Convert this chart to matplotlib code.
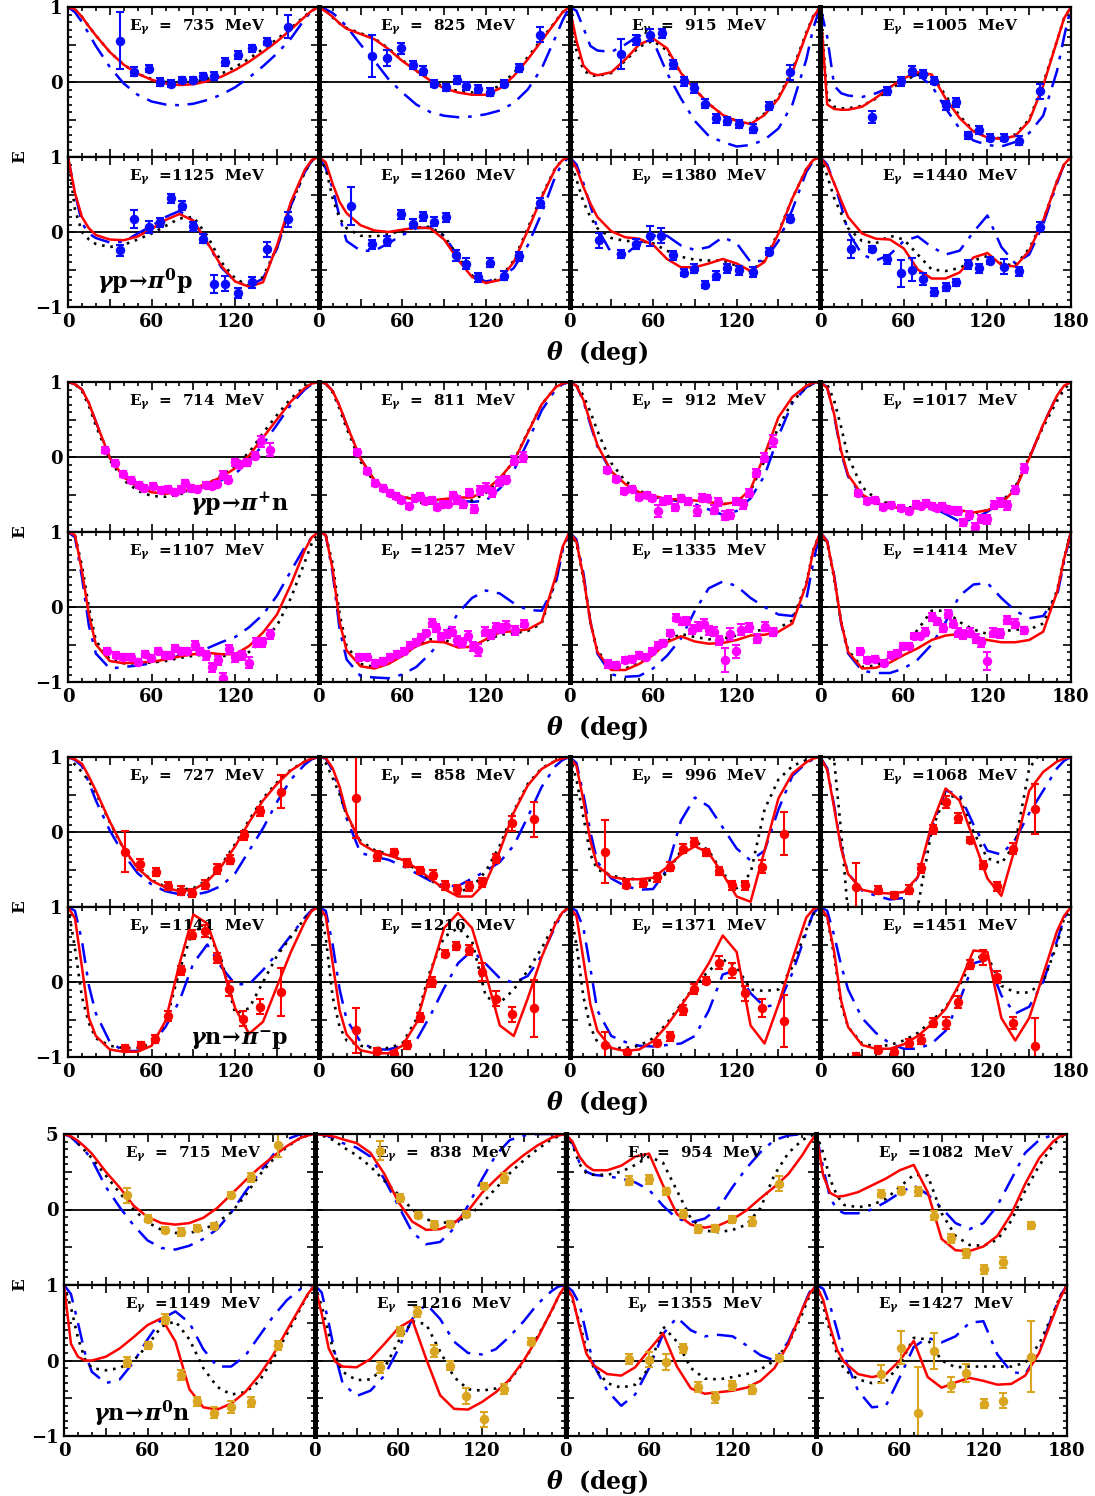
"""Beam-target helicity asymmetry E for four pion photoproduction channels."""

import matplotlib

matplotlib.use("Agg")
import matplotlib.pyplot as plt
from matplotlib.ticker import MultipleLocator

plt.rcParams["font.family"] = ["DejaVu Serif"]
plt.rcParams["font.weight"] = "bold"
plt.rcParams["mathtext.fontset"] = "dejavuserif"

THETA = [0, 5, 10, 15, 20, 30, 40, 50, 60, 70, 80, 90, 100, 110, 120, 130, 140, 150, 160, 170, 175, 180]

# ---------------- gamma p -> pi0 p ----------------
pi0p_energy = [735, 825, 915, 1005, 1125, 1260, 1380, 1440]
pi0p_red = [
    [1, 0.97, 0.87, 0.74, 0.62, 0.40, 0.23, 0.11, 0.03, -0.02, -0.04, -0.03, 0.01, 0.07, 0.16, 0.27, 0.40, 0.54, 0.70, 0.87, 0.95, 1],
    [1, 0.94, 0.87, 0.78, 0.71, 0.64, 0.57, 0.44, 0.28, 0.15, 0.02, -0.085, -0.14, -0.17, -0.17, -0.085, 0.08, 0.30, 0.55, 0.80, 0.93, 1],
    [1, 0.55, 0.22, 0.12, 0.09, 0.13, 0.30, 0.50, 0.58, 0.45, 0.12, -0.10, -0.29, -0.44, -0.52, -0.56, -0.44, -0.22, 0.13, 0.64, 0.87, 1],
    [1, -0.30, -0.36, -0.37, -0.37, -0.33, -0.21, -0.07, 0.05, 0.13, 0.10, -0.22, -0.48, -0.66, -0.74, -0.76, -0.72, -0.52, -0.05, 0.55, 0.85, 1],
    [1, 0.52, 0.20, 0.05, -0.04, -0.10, -0.11, -0.06, 0.04, 0.16, 0.24, 0.15, -0.14, -0.45, -0.66, -0.73, -0.67, -0.18, 0.40, 0.83, 0.96, 1],
    [1, 0.93, 0.64, 0.40, 0.25, 0.09, 0.02, 0.0, 0.03, 0.06, 0.05, -0.10, -0.37, -0.60, -0.68, -0.64, -0.40, 0.02, 0.46, 0.85, 0.96, 1],
    [1, 0.85, 0.60, 0.38, 0.20, 0.01, -0.07, -0.09, -0.17, -0.36, -0.47, -0.47, -0.42, -0.36, -0.42, -0.52, -0.40, -0.02, 0.45, 0.84, 0.96, 1],
    [1, 0.87, 0.65, 0.42, 0.20, -0.02, -0.09, -0.10, -0.22, -0.50, -0.62, -0.62, -0.54, -0.34, -0.28, -0.44, -0.46, -0.25, 0.15, 0.68, 0.90, 1],
]
pi0p_dot = [
    [1, 0.97, 0.87, 0.74, 0.62, 0.40, 0.23, 0.11, 0.04, 0.0, -0.01, 0.0, 0.04, 0.11, 0.20, 0.31, 0.44, 0.57, 0.72, 0.88, 0.95, 1],
    [1, 0.95, 0.86, 0.78, 0.72, 0.65, 0.58, 0.45, 0.29, 0.15, 0.03, -0.07, -0.12, -0.14, -0.13, -0.05, 0.12, 0.33, 0.57, 0.81, 0.93, 1],
    [1, 0.42, 0.16, 0.09, 0.08, 0.12, 0.28, 0.47, 0.55, 0.42, 0.12, -0.10, -0.29, -0.44, -0.52, -0.55, -0.42, -0.20, 0.16, 0.66, 0.88, 1],
    [1, -0.20, -0.33, -0.35, -0.35, -0.32, -0.22, -0.10, 0.02, 0.10, 0.10, -0.18, -0.45, -0.65, -0.74, -0.75, -0.70, -0.50, -0.02, 0.55, 0.85, 1],
    [1, 0.30, 0.0, -0.10, -0.16, -0.20, -0.17, -0.10, -0.02, 0.08, 0.18, 0.20, -0.05, -0.40, -0.62, -0.72, -0.60, -0.20, 0.36, 0.80, 0.95, 1],
    [1, 0.85, 0.45, 0.18, 0.05, -0.05, -0.06, -0.03, 0.02, 0.06, 0.07, -0.05, -0.33, -0.58, -0.68, -0.62, -0.38, 0.05, 0.48, 0.86, 0.96, 1],
    [1, 0.70, 0.40, 0.20, 0.05, -0.08, -0.12, -0.12, -0.15, -0.25, -0.33, -0.37, -0.38, -0.38, -0.45, -0.52, -0.38, 0.0, 0.45, 0.84, 0.96, 1],
    [1, 0.75, 0.45, 0.25, 0.05, -0.12, -0.15, -0.05, -0.10, -0.30, -0.50, -0.52, -0.48, -0.38, -0.32, -0.42, -0.45, -0.22, 0.15, 0.68, 0.90, 1],
]
pi0p_blue = [
    [1, 0.93, 0.80, 0.64, 0.48, 0.20, -0.02, -0.17, -0.26, -0.30, -0.31, -0.29, -0.24, -0.17, -0.07, 0.06, 0.21, 0.38, 0.58, 0.84, 0.95, 1],
    [1, 0.97, 0.92, 0.84, 0.74, 0.50, 0.28, 0.04, -0.14, -0.30, -0.40, -0.45, -0.47, -0.46, -0.43, -0.38, -0.28, -0.10, 0.18, 0.60, 0.82, 1],
    [1, 0.95, 0.72, 0.48, 0.42, 0.40, 0.50, 0.62, 0.55, 0.12, -0.22, -0.52, -0.72, -0.80, -0.86, -0.84, -0.77, -0.62, -0.30, 0.30, 0.72, 1],
    [1, 0.60, -0.05, -0.15, -0.18, -0.20, -0.15, -0.07, 0.03, 0.10, -0.05, -0.35, -0.62, -0.78, -0.84, -0.86, -0.80, -0.68, -0.45, 0.15, 0.60, 1],
    [1, 0.52, 0.12, -0.02, -0.08, -0.14, -0.13, -0.02, 0.08, 0.20, 0.28, 0.15, -0.15, -0.47, -0.66, -0.72, -0.62, -0.22, 0.35, 0.80, 0.95, 1],
    [1, 0.85, 0.58, 0.20, -0.12, -0.25, -0.25, -0.15, -0.04, 0.05, 0.06, -0.05, -0.33, -0.58, -0.66, -0.62, -0.48, -0.18, 0.25, 0.75, 0.92, 1],
    [1, 0.90, 0.65, 0.35, 0.05, -0.28, -0.30, -0.15, -0.05, -0.05, -0.18, -0.24, -0.20, -0.07, -0.15, -0.40, -0.38, -0.12, 0.30, 0.80, 0.95, 1],
    [1, 0.90, 0.65, 0.35, 0.0, -0.30, -0.38, -0.30, -0.12, -0.06, -0.20, -0.30, -0.25, 0.0, 0.22, -0.20, -0.42, -0.30, 0.10, 0.65, 0.90, 1],
]
pi0p_th = [
    [37, 47.5, 58, 66, 74, 82, 90, 97, 105, 113, 122, 132, 143, 158],
    [38, 49, 59, 68, 75, 83, 91, 99, 106, 114, 123, 133, 144, 159],
    [37, 47.5, 58, 66.5, 74, 82.5, 89.6, 97, 105, 113, 122, 132, 143, 158],
    [37, 48, 58, 66, 74, 82, 90, 97.6, 106, 113.6, 122, 132, 143, 158],
    [37, 47.5, 58, 66, 74, 82, 90, 97, 105, 113, 122, 132, 143, 158],
    [23, 38, 49, 59, 68, 75, 83, 91, 98.6, 106, 114, 123, 133, 144, 159],
    [21, 37, 48, 58, 66, 74, 82.5, 89.6, 97, 105, 113, 122, 132, 143, 158],
    [22, 37, 48, 58, 66, 74, 82, 90, 97.6, 106, 113.6, 122, 132, 143, 158],
]
pi0p_e = [
    [0.55, 0.14, 0.18, 0.0, -0.02, 0.03, 0.03, 0.08, 0.08, 0.27, 0.36, 0.45, 0.54, 0.74],
    [0.35, 0.32, 0.45, 0.23, 0.15, -0.02, -0.07, 0.03, -0.05, -0.09, -0.13, -0.02, 0.19, 0.63],
    [0.37, 0.56, 0.63, 0.65, 0.24, 0.01, -0.08, -0.29, -0.48, -0.52, -0.56, -0.62, -0.32, 0.13],
    [-0.47, -0.12, 0.01, 0.15, 0.11, 0.02, -0.31, -0.27, -0.71, -0.64, -0.74, -0.74, -0.78, -0.12],
    [-0.245, 0.17, 0.07, 0.13, 0.45, 0.35, 0.08, -0.09, -0.69, -0.69, -0.81, -0.67, -0.23, 0.17],
    [0.35, -0.165, -0.12, 0.24, 0.11, 0.21, 0.14, 0.20, -0.31, -0.42, -0.60, -0.41, -0.58, -0.32, 0.39],
    [-0.11, -0.29, -0.16, -0.05, -0.05, -0.31, -0.54, -0.49, -0.70, -0.58, -0.48, -0.51, -0.53, -0.26, 0.18],
    [-0.22, -0.23, -0.36, -0.55, -0.50, -0.62, -0.80, -0.73, -0.67, -0.43, -0.48, -0.38, -0.46, -0.52, 0.07],
]
pi0p_err = [
    [0.38, 0.06, 0.05, 0.05, 0.05, 0.04, 0.04, 0.04, 0.05, 0.05, 0.05, 0.05, 0.05, 0.15],
    [0.28, 0.11, 0.07, 0.05, 0.06, 0.05, 0.05, 0.05, 0.05, 0.05, 0.05, 0.05, 0.05, 0.10],
    [0.20, 0.07, 0.08, 0.06, 0.06, 0.06, 0.06, 0.06, 0.06, 0.05, 0.05, 0.06, 0.05, 0.10],
    [0.08, 0.05, 0.06, 0.06, 0.05, 0.05, 0.06, 0.06, 0.05, 0.05, 0.05, 0.05, 0.06, 0.10],
    [0.07, 0.12, 0.08, 0.06, 0.06, 0.06, 0.06, 0.06, 0.12, 0.10, 0.07, 0.07, 0.10, 0.10],
    [0.25, 0.06, 0.07, 0.06, 0.06, 0.06, 0.06, 0.06, 0.07, 0.07, 0.06, 0.06, 0.06, 0.06, 0.07],
    [0.10, 0.05, 0.07, 0.13, 0.10, 0.06, 0.05, 0.06, 0.05, 0.06, 0.06, 0.06, 0.07, 0.05, 0.05],
    [0.12, 0.04, 0.06, 0.18, 0.15, 0.08, 0.05, 0.05, 0.05, 0.06, 0.06, 0.05, 0.10, 0.06, 0.06],
]

# ---------------- gamma p -> pi+ n ----------------
pipn_energy = [714, 811, 912, 1017, 1107, 1257, 1335, 1414]
pipn_red = [
    [1, 0.97, 0.90, 0.72, 0.47, -0.01, -0.27, -0.40, -0.47, -0.49, -0.47, -0.42, -0.35, -0.27, -0.15, 0.02, 0.26, 0.50, 0.74, 0.92, 0.98, 1],
    [1, 0.98, 0.88, 0.68, 0.43, -0.02, -0.31, -0.45, -0.53, -0.57, -0.58, -0.56, -0.54, -0.54, -0.44, -0.28, -0.06, 0.32, 0.70, 0.93, 0.98, 1],
    [1, 0.95, 0.76, 0.46, 0.16, -0.19, -0.36, -0.47, -0.52, -0.56, -0.57, -0.58, -0.60, -0.63, -0.60, -0.43, 0.03, 0.53, 0.80, 0.95, 0.99, 1],
    [1, 0.92, 0.57, 0.08, -0.24, -0.50, -0.61, -0.66, -0.69, -0.68, -0.65, -0.68, -0.71, -0.74, -0.71, -0.62, -0.43, -0.02, 0.43, 0.82, 0.95, 1],
    [1, 0.96, 0.48, -0.10, -0.50, -0.72, -0.75, -0.74, -0.73, -0.70, -0.66, -0.63, -0.61, -0.63, -0.63, -0.52, -0.34, -0.10, 0.30, 0.76, 0.93, 1],
    [1, 0.96, 0.50, -0.20, -0.58, -0.79, -0.82, -0.76, -0.65, -0.52, -0.46, -0.47, -0.54, -0.53, -0.43, -0.34, -0.32, -0.30, -0.20, 0.40, 0.80, 1],
    [1, 0.87, 0.40, -0.20, -0.60, -0.84, -0.84, -0.76, -0.64, -0.47, -0.39, -0.46, -0.49, -0.48, -0.44, -0.38, -0.37, -0.33, -0.22, 0.30, 0.75, 1],
    [1, 0.87, 0.40, -0.20, -0.60, -0.82, -0.81, -0.74, -0.64, -0.55, -0.44, -0.38, -0.36, -0.40, -0.44, -0.47, -0.47, -0.44, -0.33, 0.20, 0.64, 1],
]
pipn_dot = [
    [1, 0.97, 0.88, 0.68, 0.42, -0.04, -0.31, -0.45, -0.52, -0.53, -0.50, -0.44, -0.36, -0.25, -0.11, 0.06, 0.32, 0.56, 0.78, 0.94, 0.98, 1],
    [1, 0.98, 0.86, 0.64, 0.38, -0.06, -0.34, -0.48, -0.56, -0.60, -0.62, -0.63, -0.62, -0.58, -0.48, -0.30, -0.05, 0.33, 0.70, 0.93, 0.98, 1],
    [1, 0.96, 0.82, 0.60, 0.35, -0.08, -0.32, -0.45, -0.52, -0.56, -0.57, -0.58, -0.60, -0.63, -0.60, -0.45, -0.05, 0.40, 0.74, 0.93, 0.98, 1],
    [1, 0.97, 0.75, 0.40, 0.0, -0.40, -0.56, -0.63, -0.67, -0.67, -0.65, -0.69, -0.73, -0.75, -0.71, -0.60, -0.40, 0.0, 0.40, 0.75, 0.90, 1],
    [1, 0.96, 0.55, 0.0, -0.45, -0.70, -0.75, -0.75, -0.74, -0.72, -0.68, -0.65, -0.63, -0.65, -0.66, -0.60, -0.45, -0.25, 0.12, 0.60, 0.85, 1],
    [1, 0.96, 0.58, -0.10, -0.52, -0.76, -0.80, -0.75, -0.65, -0.52, -0.43, -0.44, -0.50, -0.52, -0.45, -0.37, -0.35, -0.32, -0.22, 0.35, 0.78, 1],
    [1, 0.85, 0.38, -0.20, -0.58, -0.82, -0.82, -0.75, -0.62, -0.45, -0.36, -0.40, -0.43, -0.42, -0.38, -0.33, -0.30, -0.28, -0.18, 0.32, 0.76, 1],
    [1, 0.85, 0.38, -0.20, -0.58, -0.80, -0.78, -0.68, -0.55, -0.30, -0.05, -0.05, -0.20, -0.30, -0.36, -0.33, -0.30, -0.30, -0.22, 0.22, 0.65, 1],
]
pipn_blue = [
    [1, 0.97, 0.90, 0.72, 0.47, -0.01, -0.27, -0.40, -0.46, -0.48, -0.47, -0.44, -0.39, -0.31, -0.22, -0.07, 0.17, 0.43, 0.70, 0.90, 0.97, 1],
    [1, 0.98, 0.88, 0.68, 0.43, -0.02, -0.31, -0.45, -0.53, -0.57, -0.58, -0.57, -0.57, -0.60, -0.58, -0.42, -0.18, 0.20, 0.62, 0.90, 0.97, 1],
    [1, 0.95, 0.74, 0.43, 0.14, -0.20, -0.37, -0.48, -0.53, -0.57, -0.59, -0.63, -0.70, -0.77, -0.72, -0.55, -0.25, 0.28, 0.72, 0.93, 0.98, 1],
    [1, 0.93, 0.55, 0.05, -0.26, -0.52, -0.62, -0.66, -0.69, -0.68, -0.67, -0.76, -0.86, -0.83, -0.73, -0.60, -0.42, -0.02, 0.43, 0.82, 0.95, 1],
    [1, 0.93, 0.40, -0.25, -0.62, -0.82, -0.80, -0.78, -0.75, -0.70, -0.65, -0.60, -0.55, -0.47, -0.40, -0.27, -0.10, 0.15, 0.48, 0.80, 0.93, 1],
    [1, 0.96, 0.45, -0.30, -0.70, -0.92, -0.94, -0.95, -0.90, -0.80, -0.62, -0.40, -0.08, 0.12, 0.22, 0.18, 0.05, -0.04, -0.05, 0.30, 0.75, 1],
    [1, 0.90, 0.45, -0.20, -0.62, -0.90, -0.93, -0.92, -0.82, -0.65, -0.42, -0.05, 0.25, 0.34, 0.28, 0.12, 0.0, -0.10, -0.12, 0.10, 0.60, 1],
    [1, 0.88, 0.42, -0.22, -0.62, -0.85, -0.88, -0.88, -0.82, -0.70, -0.50, -0.20, 0.15, 0.30, 0.32, 0.12, -0.05, -0.15, -0.12, 0.15, 0.60, 1],
]
pipn_th = [
    [26.5, 33.6, 39.7, 45.5, 51.3, 54.9, 60.7, 66.5, 72, 76.6, 80.9, 84.2, 88.5, 92.3, 99.1, 103.6, 106.7, 111.2, 115, 119.6, 122.6, 128.4, 134, 138.3, 145.3],
    [27.8, 34.4, 40.7, 46.3, 51.3, 55.1, 58.9, 64.5, 69, 72.8, 76.6, 81.1, 84.9, 89.2, 92.5, 96.3, 99.3, 103.9, 108.2, 111.5, 115.8, 120.3, 124.6, 129.7, 134.7, 140.3, 146.9],
    [27.2, 33.5, 39.3, 45.2, 50.2, 55.3, 59.1, 63.5, 67.3, 71, 75.6, 79.9, 85, 91.4, 95.2, 99, 104, 106.6, 111.7, 115.5, 119.3, 124.4, 128.7, 134, 139.6, 146.2],
    [27.4, 33.5, 39.3, 45.1, 50.7, 57.8, 63.4, 68.5, 72.3, 76.1, 79.9, 83.7, 87.5, 91.3, 95.1, 98.9, 102.7, 106.5, 111, 115.3, 119.7, 124.7, 129.3, 134.4, 140, 146.5],
    [27.8, 34.1, 39.7, 45.5, 50.6, 55.6, 59.9, 64.5, 69.5, 73.3, 76.6, 80.9, 85.2, 91, 94.8, 99.3, 103.1, 107.4, 111.2, 115.5, 119.6, 125.1, 129.7, 134.7, 139, 145.3],
    [28.6, 34.9, 40.7, 45.8, 51.3, 56.4, 61, 65.2, 69.5, 73.6, 77.1, 81.2, 84.2, 88, 91.8, 95.6, 99.4, 103.1, 106.9, 110.8, 114.5, 119.6, 123.4, 127.2, 131, 134.7, 141, 147],
    [27.4, 33.5, 39.8, 44.9, 50, 55.1, 59.1, 63.5, 67.3, 71.8, 76.1, 80.7, 83.8, 87.6, 92.6, 96.4, 100.3, 104, 107.4, 111.7, 115.5, 119.3, 123.1, 128.7, 134.5, 140.1, 146.2],
    [28.7, 33.5, 39.3, 45.6, 50.7, 55.3, 59.6, 63.4, 67.2, 71.5, 75.5, 79.9, 83.7, 88.3, 91.8, 95.1, 98.9, 102.7, 107.3, 111.6, 115.4, 120, 124.3, 129.3, 134.4, 140, 146.5],
]
pipn_e = [
    [0.09, -0.08, -0.22, -0.30, -0.37, -0.41, -0.39, -0.44, -0.42, -0.46, -0.43, -0.34, -0.41, -0.43, -0.37, -0.38, -0.36, -0.24, -0.30, -0.07, -0.10, -0.07, 0.02, 0.21, 0.10],
    [0.07, -0.18, -0.34, -0.41, -0.48, -0.52, -0.57, -0.65, -0.55, -0.52, -0.59, -0.57, -0.66, -0.63, -0.63, -0.51, -0.57, -0.63, -0.47, -0.69, -0.44, -0.41, -0.47, -0.33, -0.30, -0.05, 0.0],
    [-0.17, -0.29, -0.45, -0.43, -0.53, -0.51, -0.54, -0.72, -0.59, -0.57, -0.67, -0.55, -0.59, -0.72, -0.54, -0.55, -0.70, -0.60, -0.78, -0.77, -0.59, -0.63, -0.48, -0.21, -0.01, 0.22],
    [-0.48, -0.59, -0.57, -0.66, -0.64, -0.68, -0.72, -0.62, -0.65, -0.61, -0.65, -0.68, -0.65, -0.69, -0.71, -0.72, -0.87, -0.77, -0.93, -0.82, -0.83, -0.64, -0.60, -0.64, -0.44, -0.15],
    [-0.59, -0.64, -0.67, -0.67, -0.73, -0.62, -0.68, -0.59, -0.64, -0.64, -0.55, -0.58, -0.59, -0.51, -0.59, -0.64, -0.80, -0.71, -0.94, -0.56, -0.67, -0.64, -0.74, -0.47, -0.47, -0.36],
    [-0.67, -0.67, -0.74, -0.72, -0.67, -0.63, -0.58, -0.50, -0.47, -0.40, -0.34, -0.21, -0.28, -0.39, -0.36, -0.33, -0.44, -0.47, -0.38, -0.52, -0.57, -0.33, -0.36, -0.27, -0.29, -0.25, -0.31, -0.22],
    [-0.76, -0.77, -0.70, -0.69, -0.64, -0.66, -0.58, -0.50, -0.48, -0.35, -0.14, -0.19, -0.18, -0.30, -0.26, -0.22, -0.31, -0.33, -0.44, -0.70, -0.36, -0.59, -0.30, -0.27, -0.42, -0.26, -0.33],
    [-0.59, -0.70, -0.69, -0.74, -0.64, -0.61, -0.52, -0.52, -0.38, -0.38, -0.33, -0.13, -0.19, -0.28, -0.09, -0.22, -0.34, -0.36, -0.34, -0.42, -0.47, -0.72, -0.34, -0.35, -0.17, -0.22, -0.31],
]
pipn_err = [
    [0.04, 0.04, 0.04, 0.04, 0.04, 0.04, 0.04, 0.04, 0.04, 0.04, 0.04, 0.04, 0.04, 0.04, 0.04, 0.04, 0.04, 0.05, 0.05, 0.05, 0.05, 0.05, 0.05, 0.07, 0.09],
    [0.04, 0.04, 0.04, 0.04, 0.04, 0.04, 0.04, 0.04, 0.04, 0.04, 0.04, 0.04, 0.04, 0.04, 0.04, 0.05, 0.05, 0.05, 0.05, 0.05, 0.06, 0.06, 0.06, 0.06, 0.05, 0.06, 0.07],
    [0.04, 0.04, 0.04, 0.04, 0.04, 0.04, 0.04, 0.08, 0.05, 0.05, 0.05, 0.05, 0.05, 0.07, 0.05, 0.05, 0.06, 0.05, 0.06, 0.06, 0.05, 0.06, 0.05, 0.05, 0.06, 0.08],
    [0.04, 0.04, 0.04, 0.04, 0.04, 0.04, 0.04, 0.04, 0.04, 0.04, 0.04, 0.04, 0.04, 0.04, 0.05, 0.05, 0.05, 0.05, 0.05, 0.05, 0.06, 0.05, 0.06, 0.06, 0.05, 0.06],
    [0.04, 0.04, 0.04, 0.04, 0.04, 0.04, 0.04, 0.04, 0.04, 0.04, 0.04, 0.04, 0.04, 0.06, 0.05, 0.06, 0.06, 0.06, 0.06, 0.06, 0.06, 0.06, 0.07, 0.06, 0.06, 0.06],
    [0.05, 0.04, 0.04, 0.04, 0.04, 0.04, 0.04, 0.04, 0.04, 0.04, 0.04, 0.05, 0.05, 0.05, 0.05, 0.06, 0.06, 0.06, 0.06, 0.06, 0.08, 0.06, 0.06, 0.06, 0.06, 0.06, 0.06, 0.05],
    [0.05, 0.04, 0.04, 0.04, 0.04, 0.04, 0.04, 0.04, 0.04, 0.04, 0.05, 0.05, 0.05, 0.06, 0.06, 0.06, 0.06, 0.06, 0.06, 0.16, 0.08, 0.09, 0.07, 0.06, 0.06, 0.06, 0.05],
    [0.05, 0.04, 0.04, 0.04, 0.04, 0.04, 0.04, 0.04, 0.04, 0.04, 0.05, 0.05, 0.05, 0.05, 0.05, 0.05, 0.06, 0.06, 0.06, 0.06, 0.06, 0.12, 0.06, 0.06, 0.05, 0.06, 0.05],
]

# ---------------- gamma n -> pi- p ----------------
pimp_energy = [727, 858, 996, 1068, 1141, 1216, 1371, 1451]
pimp_red = [
    [1, 0.97, 0.91, 0.74, 0.55, 0.14, -0.22, -0.48, -0.65, -0.74, -0.79, -0.77, -0.66, -0.46, -0.19, 0.13, 0.42, 0.64, 0.82, 0.94, 0.98, 1],
    [1, 0.99, 0.85, 0.60, 0.25, -0.15, -0.26, -0.31, -0.37, -0.48, -0.62, -0.76, -0.86, -0.86, -0.67, -0.25, 0.26, 0.62, 0.84, 0.95, 0.98, 1],
    [1, 0.88, 0.42, -0.12, -0.45, -0.60, -0.63, -0.63, -0.61, -0.47, -0.30, -0.19, -0.28, -0.56, -0.86, -0.93, -0.25, 0.45, 0.78, 0.93, 0.98, 1],
    [1, 0.83, 0.32, -0.22, -0.56, -0.77, -0.81, -0.82, -0.80, -0.60, 0.10, 0.58, 0.42, -0.10, -0.62, -0.85, -0.20, 0.55, 0.80, 0.94, 0.98, 1],
    [1, 0.85, 0.20, -0.48, -0.72, -0.90, -0.93, -0.93, -0.85, -0.52, 0.24, 0.90, 0.78, 0.25, -0.35, -0.69, -0.53, -0.06, 0.40, 0.80, 0.95, 1],
    [1, 0.88, 0.25, -0.38, -0.70, -0.91, -0.95, -0.95, -0.85, -0.55, 0.10, 0.72, 0.92, 0.72, 0.10, -0.58, -0.72, -0.22, 0.33, 0.78, 0.93, 1],
    [1, 0.88, 0.30, -0.30, -0.65, -0.88, -0.92, -0.90, -0.79, -0.58, -0.32, -0.05, 0.25, 0.62, 0.40, -0.58, -0.82, -0.30, 0.30, 0.86, 0.97, 1],
    [1, 0.87, 0.40, -0.25, -0.60, -0.84, -0.89, -0.89, -0.83, -0.72, -0.56, -0.36, -0.02, 0.42, 0.40, -0.48, -0.78, -0.48, 0.10, 0.68, 0.88, 1],
]
pimp_dot = [
    [1, 0.90, 0.80, 0.68, 0.52, 0.13, -0.23, -0.48, -0.64, -0.73, -0.77, -0.75, -0.64, -0.44, -0.16, 0.16, 0.45, 0.66, 0.83, 0.94, 0.98, 1],
    [1, 0.92, 0.72, 0.50, 0.22, -0.12, -0.24, -0.30, -0.38, -0.50, -0.64, -0.76, -0.80, -0.74, -0.52, -0.18, 0.28, 0.64, 0.85, 0.95, 0.98, 1],
    [1, 0.70, 0.20, -0.30, -0.50, -0.58, -0.62, -0.63, -0.65, -0.55, -0.25, -0.12, -0.25, -0.55, -0.75, -0.55, 0.30, 0.70, 0.88, 0.96, 0.99, 1],
    [1, 1.0, 0.95, 0.0, -1.1, -1.1, -1.1, -1.1, -1.1, -1.0, 0.02, 0.50, 0.45, 0.0, -0.35, -0.42, -0.15, 0.85, 1.1, 1.1, 1.05, 1],
    [1, 0.45, -0.20, -0.55, -0.75, -0.85, -0.88, -0.88, -0.82, -0.55, 0.15, 0.72, 0.68, 0.30, -0.42, -0.35, 0.0, 0.35, 0.60, 0.85, 0.95, 1],
    [1, 0.60, -0.20, -0.60, -0.78, -0.85, -0.88, -0.88, -0.82, -0.50, 0.15, 0.60, 0.72, 0.55, -0.20, -0.28, -0.10, 0.15, 0.45, 0.80, 0.93, 1],
    [1, 0.50, -0.20, -0.60, -0.80, -0.88, -0.88, -0.85, -0.75, -0.55, -0.30, -0.05, 0.15, 0.30, 0.20, -0.10, -0.12, -0.10, 0.20, 0.70, 0.90, 1],
    [1, 0.85, 0.35, -0.30, -0.60, -0.82, -0.86, -0.84, -0.78, -0.68, -0.52, -0.34, -0.05, 0.32, 0.35, -0.05, -0.14, -0.14, 0.0, 0.50, 0.85, 1],
]
pimp_blue = [
    [1, 0.96, 0.88, 0.66, 0.42, 0.02, -0.30, -0.55, -0.70, -0.79, -0.83, -0.84, -0.80, -0.72, -0.55, -0.25, 0.05, 0.40, 0.70, 0.90, 0.97, 1],
    [1, 0.98, 0.82, 0.55, 0.18, -0.28, -0.33, -0.37, -0.45, -0.55, -0.65, -0.72, -0.72, -0.62, -0.52, -0.40, -0.18, 0.20, 0.60, 0.88, 0.96, 1],
    [1, 0.92, 0.50, 0.0, -0.40, -0.62, -0.72, -0.77, -0.76, -0.50, 0.15, 0.46, 0.34, 0.06, -0.22, -0.38, -0.25, 0.30, 0.75, 0.92, 0.97, 1],
    [1, 0.85, 0.35, -0.20, -0.55, -0.78, -0.85, -0.90, -0.88, -0.60, 0.05, 0.55, 0.50, 0.10, -0.25, -0.30, -0.10, 0.25, 0.55, 0.85, 0.95, 1],
    [1, 0.95, 0.55, -0.05, -0.42, -0.80, -0.92, -0.92, -0.83, -0.60, -0.25, 0.25, 0.50, 0.20, -0.03, -0.03, 0.16, 0.38, 0.62, 0.86, 0.96, 1],
    [1, 0.95, 0.50, -0.10, -0.50, -0.80, -0.90, -0.90, -0.85, -0.78, -0.45, -0.08, 0.25, 0.42, 0.24, 0.05, -0.01, 0.08, 0.35, 0.75, 0.92, 1],
    [1, 0.95, 0.72, 0.18, -0.38, -0.72, -0.80, -0.85, -0.86, -0.84, -0.82, -0.72, -0.38, 0.10, 0.16, -0.15, -0.33, -0.30, 0.12, 0.66, 0.92, 1],
    [1, 0.95, 0.62, 0.22, -0.10, -0.48, -0.68, -0.82, -0.89, -0.89, -0.82, -0.65, -0.25, 0.25, 0.30, -0.18, -0.42, -0.33, 0.0, 0.55, 0.85, 1],
]
pimp_th = [
    [41, 52, 63, 72, 81, 89, 98, 107, 116, 126, 138, 153],
    [26.5, 42, 54, 63, 73, 82, 90.5, 99, 108, 117, 127, 139, 154.5],
    [25.4, 40.6, 52.8, 62.7, 72.3, 81.2, 89.6, 98.2, 107.4, 116.8, 126.1, 138.3, 153.8],
    [25.9, 41.3, 52.7, 63.4, 72.3, 81.1, 90, 98.9, 107.8, 116.6, 126.8, 138.7, 154.2],
    [41.2, 52.3, 62.7, 72, 80.9, 89.2, 98.1, 107, 115.8, 125.9, 137.8, 153],
    [26.5, 42, 53.8, 63.4, 72.8, 81.6, 90.5, 98.8, 107.7, 117, 127.2, 138.8, 154.5],
    [25.4, 41.1, 62.7, 72.3, 81.2, 89.6, 98.2, 107.4, 116.8, 126.1, 138.3, 153.8],
    [25.9, 41.3, 52.7, 63.4, 72.3, 81.1, 90, 98.9, 107.8, 116.6, 126.8, 138.7, 154.2],
]
pimp_e = [
    [-0.26, -0.43, -0.53, -0.72, -0.78, -0.81, -0.70, -0.49, -0.37, -0.04, 0.28, 0.54],
    [0.46, -0.32, -0.27, -0.41, -0.51, -0.57, -0.71, -0.76, -0.72, -0.67, -0.35, 0.12, 0.17],
    [-0.26, -0.70, -0.68, -0.60, -0.46, -0.22, -0.13, -0.27, -0.52, -0.71, -0.71, -0.46, -0.02],
    [-0.73, -0.77, -0.84, -0.77, -0.48, 0.04, 0.40, 0.19, -0.11, -0.44, -0.72, -0.22, 0.31],
    [-0.88, -0.84, -0.76, -0.45, 0.16, 0.63, 0.68, 0.32, -0.09, -0.49, -0.33, -0.13],
    [-0.64, -0.92, -0.96, -0.84, -0.47, 0.0, 0.38, 0.48, 0.43, 0.13, -0.22, -0.43, -0.35],
    [-0.84, -0.93, -0.81, -0.72, -0.37, -0.09, 0.02, 0.26, 0.15, -0.15, -0.34, -0.52],
    [-0.99, -0.90, -0.93, -0.81, -0.77, -0.54, -0.54, -0.26, 0.23, 0.33, 0.07, -0.54, -0.85],
]
pimp_err = [
    [0.27, 0.07, 0.05, 0.05, 0.06, 0.05, 0.06, 0.07, 0.06, 0.06, 0.06, 0.22],
    [0.54, 0.07, 0.05, 0.05, 0.05, 0.06, 0.06, 0.06, 0.06, 0.06, 0.06, 0.10, 0.23],
    [0.42, 0.05, 0.05, 0.06, 0.06, 0.06, 0.05, 0.05, 0.05, 0.06, 0.06, 0.09, 0.29],
    [0.32, 0.05, 0.04, 0.06, 0.06, 0.06, 0.08, 0.07, 0.04, 0.05, 0.06, 0.07, 0.33],
    [0.04, 0.04, 0.05, 0.07, 0.06, 0.06, 0.08, 0.07, 0.10, 0.10, 0.10, 0.32],
    [0.30, 0.04, 0.04, 0.05, 0.06, 0.07, 0.05, 0.05, 0.07, 0.12, 0.10, 0.10, 0.38],
    [0.18, 0.03, 0.04, 0.06, 0.07, 0.07, 0.05, 0.09, 0.10, 0.10, 0.12, 0.35],
    [0.05, 0.05, 0.04, 0.05, 0.06, 0.06, 0.08, 0.08, 0.06, 0.10, 0.08, 0.08, 0.37],
]

# ---------------- gamma n -> pi0 n ----------------
pi0n_energy = [715, 838, 954, 1082, 1149, 1216, 1355, 1427]
pi0n_red = [
    [1, 0.97, 0.91, 0.83, 0.74, 0.50, 0.29, 0.05, -0.10, -0.18, -0.20, -0.18, -0.11, 0.02, 0.20, 0.38, 0.55, 0.70, 0.84, 0.95, 0.98, 1],
    [1, 0.99, 0.98, 0.96, 0.93, 0.88, 0.75, 0.47, 0.10, -0.16, -0.27, -0.26, -0.18, -0.02, 0.22, 0.40, 0.57, 0.72, 0.85, 0.95, 0.98, 1],
    [1, 0.90, 0.70, 0.58, 0.52, 0.52, 0.58, 0.70, 0.74, 0.32, -0.06, -0.20, -0.24, -0.21, -0.13, -0.01, 0.15, 0.30, 0.47, 0.72, 0.87, 1],
    [1, 0.45, 0.22, 0.17, 0.18, 0.23, 0.32, 0.41, 0.52, 0.59, 0.23, -0.39, -0.54, -0.55, -0.49, -0.35, -0.06, 0.34, 0.68, 0.90, 0.97, 1],
    [1, 0.22, 0.05, 0.0, 0.0, 0.05, 0.16, 0.31, 0.47, 0.56, 0.25, -0.38, -0.62, -0.65, -0.57, -0.42, -0.20, 0.07, 0.40, 0.72, 0.88, 1],
    [1, 0.62, 0.16, -0.02, -0.08, -0.09, 0.02, 0.22, 0.43, 0.54, 0.02, -0.46, -0.64, -0.65, -0.55, -0.42, -0.25, 0.0, 0.30, 0.66, 0.85, 1],
    [1, 0.84, 0.45, 0.09, -0.06, -0.18, -0.20, -0.09, 0.14, 0.36, -0.08, -0.37, -0.44, -0.42, -0.40, -0.36, -0.27, -0.10, 0.22, 0.68, 0.88, 1],
    [1, 0.80, 0.44, 0.14, -0.02, -0.18, -0.22, -0.18, 0.0, 0.26, -0.22, -0.36, -0.29, -0.23, -0.27, -0.32, -0.31, -0.20, 0.10, 0.58, 0.82, 1],
]
pi0n_dot = [
    [1, 0.96, 0.88, 0.78, 0.68, 0.45, 0.22, 0.0, -0.17, -0.27, -0.31, -0.31, -0.27, -0.17, -0.04, 0.18, 0.45, 0.66, 0.83, 0.95, 0.98, 1],
    [1, 0.98, 0.95, 0.90, 0.83, 0.72, 0.57, 0.38, 0.20, 0.0, -0.13, -0.18, -0.16, -0.10, 0.08, 0.28, 0.48, 0.65, 0.80, 0.93, 0.97, 1],
    [1, 0.86, 0.60, 0.48, 0.46, 0.46, 0.50, 0.59, 0.70, 0.62, 0.25, -0.12, -0.28, -0.30, -0.27, -0.20, 0.02, 0.46, 0.75, 0.92, 0.97, 1],
    [1, 0.75, 0.40, 0.18, 0.06, 0.03, 0.06, 0.14, 0.30, 0.46, 0.45, -0.05, -0.35, -0.47, -0.48, -0.40, -0.15, 0.25, 0.58, 0.85, 0.95, 1],
    [1, 0.70, 0.30, 0.02, -0.10, -0.13, -0.10, 0.0, 0.20, 0.45, 0.52, 0.28, -0.10, -0.35, -0.45, -0.42, -0.28, 0.02, 0.35, 0.70, 0.87, 1],
    [1, 0.72, 0.35, 0.05, -0.15, -0.26, -0.25, -0.10, 0.25, 0.52, 0.48, 0.12, -0.22, -0.38, -0.40, -0.37, -0.26, -0.02, 0.32, 0.65, 0.85, 1],
    [1, 0.80, 0.50, 0.15, -0.08, -0.30, -0.36, -0.32, -0.10, 0.45, 0.25, -0.10, -0.24, -0.25, -0.22, -0.18, -0.12, 0.0, 0.22, 0.62, 0.85, 1],
    [1, 0.72, 0.38, 0.08, -0.12, -0.25, -0.30, -0.28, -0.05, 0.30, 0.28, 0.0, -0.09, -0.08, -0.08, -0.08, -0.08, -0.03, 0.22, 0.62, 0.85, 1],
]
pi0n_blue = [
    [1, 0.96, 0.87, 0.78, 0.66, 0.30, 0.03, -0.21, -0.41, -0.51, -0.53, -0.48, -0.39, -0.26, -0.04, 0.23, 0.48, 0.72, 0.93, 1.0, 1.0, 1],
    [1, 0.99, 0.97, 0.93, 0.88, 0.82, 0.70, 0.40, 0.05, -0.30, -0.46, -0.43, -0.25, 0.05, 0.40, 0.72, 0.92, 0.98, 1.0, 1.0, 1.0, 1],
    [1, 0.88, 0.62, 0.50, 0.46, 0.44, 0.41, 0.36, 0.26, 0.05, -0.12, -0.17, -0.12, 0.02, 0.30, 0.55, 0.76, 0.92, 0.98, 1.0, 1.0, 1],
    [1, 0.55, 0.15, 0.0, -0.05, -0.05, 0.0, 0.10, 0.22, 0.32, 0.20, 0.02, -0.18, -0.26, -0.18, 0.05, 0.40, 0.75, 0.92, 0.99, 1.0, 1],
    [1, 0.88, 0.50, 0.10, -0.15, -0.30, -0.25, -0.02, 0.28, 0.55, 0.65, 0.50, 0.15, -0.08, -0.08, 0.06, 0.32, 0.58, 0.80, 0.95, 0.99, 1],
    [1, 0.90, 0.50, 0.05, -0.30, -0.47, -0.40, -0.20, 0.15, 0.55, 0.75, 0.55, 0.25, 0.10, 0.08, 0.15, 0.32, 0.52, 0.75, 0.92, 0.98, 1],
    [1, 0.92, 0.75, 0.35, -0.05, -0.40, -0.60, -0.45, -0.10, 0.35, 0.57, 0.40, 0.32, 0.34, 0.32, 0.20, 0.07, 0.0, 0.25, 0.68, 0.90, 1],
    [1, 0.95, 0.72, 0.40, 0.05, -0.40, -0.62, -0.60, -0.22, 0.18, 0.30, 0.24, 0.32, 0.50, 0.52, 0.08, -0.15, -0.18, 0.12, 0.62, 0.85, 1],
]
pi0n_th = [
    [45.4, 60.1, 72.3, 84.2, 95.6, 107.5, 119.7, 134.1, 153.9],
    [46.7, 60.9, 74.1, 85.4, 96.9, 108.3, 121.5, 135.6],
    [45.4, 59.8, 72, 84.1, 95.2, 107, 119.7, 134.1, 153.5],
    [46.4, 60.6, 73.2, 84.6, 96.4, 107.8, 120.4, 134.3, 154.5],
    [45.4, 60.1, 72.3, 84.2, 95.6, 107.5, 119.7, 134.1, 153.9],
    [46.7, 60.9, 73.5, 85.4, 96.9, 108.3, 121.5, 135.6, 155.2],
    [45.4, 59.8, 72, 84.1, 95.2, 107, 119.7, 134.1, 153.5],
    [46.4, 60.6, 73.2, 84.6, 96.4, 107.8, 120.4, 134.3, 154.5],
]
pi0n_e = [
    [0.19, -0.12, -0.27, -0.30, -0.25, -0.22, 0.19, 0.43, 0.85],
    [0.78, 0.15, -0.07, -0.20, -0.19, -0.06, 0.31, 0.42],
    [0.38, 0.40, 0.24, -0.06, -0.26, -0.25, -0.13, -0.16, 0.34],
    [0.21, 0.25, 0.24, -0.08, -0.38, -0.58, -0.79, -0.70, -0.21],
    [-0.02, 0.20, 0.55, -0.19, -0.54, -0.69, -0.62, -0.55, 0.20],
    [-0.09, 0.39, 0.64, 0.13, -0.07, -0.47, -0.78, -0.38, 0.25],
    [0.02, 0.01, -0.02, 0.16, -0.35, -0.49, -0.33, -0.39, 0.03],
    [-0.18, 0.17, -0.69, 0.13, -0.32, -0.16, -0.57, -0.53, 0.05],
]
pi0n_err = [
    [0.10, 0.05, 0.04, 0.05, 0.04, 0.04, 0.04, 0.06, 0.16],
    [0.13, 0.05, 0.04, 0.05, 0.04, 0.04, 0.04, 0.07],
    [0.06, 0.06, 0.05, 0.05, 0.05, 0.05, 0.05, 0.06, 0.10],
    [0.05, 0.05, 0.06, 0.06, 0.06, 0.06, 0.06, 0.07, 0.05],
    [0.07, 0.05, 0.07, 0.07, 0.06, 0.07, 0.08, 0.07, 0.06],
    [0.07, 0.06, 0.07, 0.08, 0.06, 0.11, 0.10, 0.07, 0.05],
    [0.07, 0.10, 0.10, 0.06, 0.07, 0.07, 0.06, 0.06, 0.04],
    [0.12, 0.22, 0.60, 0.24, 0.10, 0.12, 0.06, 0.10, 0.47],
]

REACTIONS = [
    r"$\gamma\mathrm{p}\!\rightarrow\!\pi^{0}\mathrm{p}$",
    r"$\gamma\mathrm{p}\!\rightarrow\!\pi^{+}\mathrm{n}$",
    r"$\gamma\mathrm{n}\!\rightarrow\!\pi^{-}\mathrm{p}$",
    r"$\gamma\mathrm{n}\!\rightarrow\!\pi^{0}\mathrm{n}$",
]
TOP_LABEL = ["1", "1", "1", "5"]

# options table assembled from the named lists above
blocks = [
    dict(energy=pi0p_energy, red=pi0p_red, dot=pi0p_dot, blue=pi0p_blue, th=pi0p_th, e=pi0p_e, err=pi0p_err,
         color="#0a0aff", top=7, left=68, rowh=150, label_panel=4, label_xy=(0.115, 0.17)),
    dict(energy=pipn_energy, red=pipn_red, dot=pipn_dot, blue=pipn_blue, th=pipn_th, e=pipn_e, err=pipn_err,
         color="#ff00ff", top=382, left=68, rowh=150, label_panel=0, label_xy=(0.487, 0.18)),
    dict(energy=pimp_energy, red=pimp_red, dot=pimp_dot, blue=pimp_blue, th=pimp_th, e=pimp_e, err=pimp_err,
         color="#ff0000", top=757, left=68, rowh=150, label_panel=4, label_xy=(0.487, 0.115)),
    dict(energy=pi0n_energy, red=pi0n_red, dot=pi0n_dot, blue=pi0n_blue, th=pi0n_th, e=pi0n_e, err=pi0n_err,
         color="#daa520", top=1134, left=64, rowh=151, label_panel=4, label_xy=(0.115, 0.145)),
]

W, H = 1095, 1496
PANEL_W = 250.75

fig = plt.figure(figsize=(W / 100, H / 100), dpi=100)


def px_axes(x0, y0, w, h):
    return fig.add_axes([x0 / W, 1 - (y0 + h) / H, w / W, h / H])


def energy_label(ev):
    if ev >= 1000:
        return r"$\mathbf{E}_{\gamma}$  =" + f"{ev}  MeV"
    return r"$\mathbf{E}_{\gamma}$  =  " + f"{ev}  MeV"


for b, blk in enumerate(blocks):
    for k in range(8):
        r, c = divmod(k, 4)
        ax = px_axes(blk["left"] + c * PANEL_W, blk["top"] + r * blk["rowh"], PANEL_W, blk["rowh"])
        ax.set_xlim(0, 180)
        ax.set_ylim(-1, 1)

        ax.axhline(0, color="black", lw=1.3, zorder=1)
        ax.plot(THETA, blk["blue"][k], color="#0000ff", lw=1.8, ls=(0, (8, 3.5, 1.5, 3.5)), zorder=2)
        ax.plot(THETA, blk["dot"][k], color="black", lw=1.9, ls=(0, (1, 2.2)), zorder=2)
        ax.plot(THETA, blk["red"][k], color="#ff0000", lw=1.8, zorder=3)
        ax.errorbar(blk["th"][k], blk["e"][k], yerr=blk["err"][k], fmt="o", color=blk["color"],
                    ms=5.8, elinewidth=1.5, capsize=3, capthick=1.5, zorder=4)

        ax.text(0.245, 0.865, energy_label(blk["energy"][k]), transform=ax.transAxes,
                fontsize=11, fontweight="bold", va="center", ha="left")

        if k == blk["label_panel"]:
            ax.text(*blk["label_xy"], REACTIONS[b], transform=ax.transAxes, fontsize=16,
                    fontweight="normal", ha="left", va="center")

        # ticks
        ax.xaxis.set_major_locator(MultipleLocator(30))
        ax.xaxis.set_minor_locator(MultipleLocator(10))
        ax.yaxis.set_major_locator(MultipleLocator(0.5))
        ax.yaxis.set_minor_locator(MultipleLocator(0.1))
        ax.tick_params(which="both", direction="in", top=True, right=True, width=1.2)
        ax.tick_params(which="major", length=6)
        ax.tick_params(which="minor", length=3)
        ax.tick_params(axis="both", labelsize=13, pad=4)

        if r == 1:
            ax.set_xticks([0, 30, 60, 90, 120, 150, 180])
            ax.set_xticklabels(["0", "", "60", "", "120", "", "180" if c == 3 else ""], fontweight="bold")
        else:
            ax.set_xticklabels([])
        if c == 0:
            ax.set_yticks([-1, -0.5, 0, 0.5, 1])
            if r == 0:
                ax.set_yticklabels(["", "", "0", "", TOP_LABEL[b]], fontweight="bold")
            else:
                ax.set_yticklabels(["\u22121", "", "0", "", "1"], fontweight="bold")
        else:
            ax.set_yticklabels([])

        for sp in ax.spines.values():
            sp.set_linewidth(1.6)
            sp.set_zorder(5)
        if c > 0:
            ax.spines["left"].set_linewidth(3.6)

    mid = blk["top"] + blk["rowh"]
    fig.text(20 / W, 1 - mid / H, "E", rotation=90, fontsize=12, fontweight="bold", ha="center", va="center")
    fig.text(597 / W, 1 - (blk["top"] + 2 * blk["rowh"] + 46) / H, r"$\theta$  (deg)", fontsize=17,
             fontweight="bold", ha="center", va="center")

fig.savefig("out.png", dpi=100)
plt.close(fig)
